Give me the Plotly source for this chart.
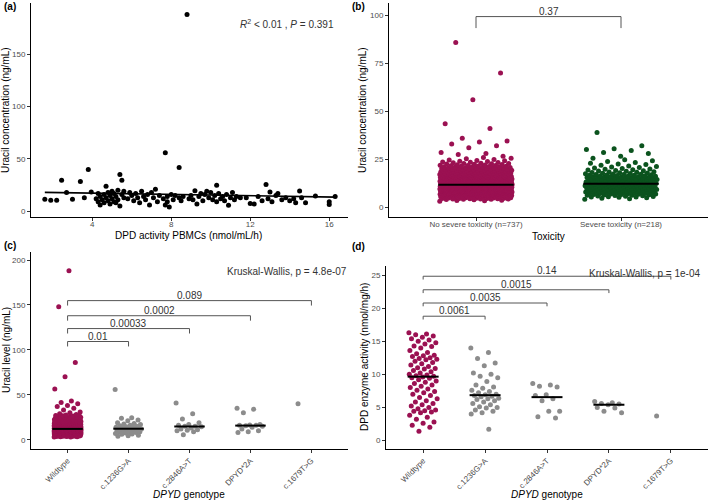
import numpy as np
import plotly.graph_objects as go

# ---------------- (a) DPD activity in PBMCs vs uracil ----------------
pbmc_dpd = [1.6, 1.9, 2.2, 2.45, 2.7, 3.0, 3.4, 3.6, 3.8, 3.95,
            4.2, 4.3, 4.3, 4.4, 4.4, 4.5, 4.6, 4.6, 4.7, 4.7, 4.8, 4.8, 4.9, 4.9,
            5.0, 5.0, 5.1, 5.1, 5.2, 5.2, 5.3, 5.3, 5.4, 5.4, 5.5, 5.5, 5.6, 5.6,
            5.8, 5.9, 6.0, 6.1, 6.2, 6.3, 6.4, 6.5, 6.6, 6.7, 6.8, 6.9, 7.0, 7.1,
            7.2, 7.3, 7.4, 7.6, 7.7, 7.7, 7.8, 7.8, 7.9, 8.0, 8.1, 8.2, 8.4, 8.4,
            8.5, 8.6, 8.8, 8.9, 9.0, 9.1, 9.2, 9.3, 9.4, 9.5, 9.6, 9.7, 9.8, 9.9,
            10.0, 10.1, 10.2, 10.3, 10.3, 10.4, 10.5, 10.6, 10.7, 10.8, 10.9, 11.0,
            11.1, 11.2, 11.3, 11.5, 11.8, 12.0, 12.2, 12.4, 12.6, 12.8, 12.9, 13.0,
            13.1, 13.3, 13.4, 13.6, 13.8, 14.0, 14.2, 14.3, 14.5, 14.6, 14.8, 15.3,
            16.0, 16.0, 16.3]
pbmc_uracil = [11.5, 10.5, 10.5, 29.6, 17.9, 11.5, 28.4, 13, 40, 18.5,
               12, 17, 9, 6, 14, 11, 8, 16, 24, 13, 10, 18, 7, 15,
               19, 12, 9, 17, 14, 8, 20, 11, 35, 5, 29.5, 16, 13, 19,
               12, 18, 15, 10, 17, 13, 8, 19, 14, 11, 16, 6, 18, 13,
               21, 9, 15, 12, 56, 6, 14, 9, 4, 16, 11, 15, 41.8, 13,
               10, 14, 188, 12, 15, 11, 19.5, 7, 14, 17, 10, 16, 19, 13,
               18, 11, 15, 24.8, 9, 17, 12, 14, 10, 16, 5.7, 13,
               18, 11, 14, 13, 13, 7.3, 7, 14, 10, 25.5, 12, 18.5,
               9, 15, 17, 11, 13, 10, 12, 8, 19.4, 13, 8, 14.5,
               9, 6.4, 14]
reg_intercept = 18.5
reg_slope = -0.306

# ---------------- (b) uracil by toxicity ----------------
tox_labels = ["No severe toxicity (n=737)", "Severe toxicity (n=218)"]
tox_pval = "0.37"
no_tox_bins = list(range(3, 26))
no_tox_counts = [6, 18, 32, 45, 52, 58, 60, 60, 58, 55, 50, 45, 40, 33, 27, 22, 17, 13, 10, 8, 6, 4, 3]
no_tox_high = [86, 70, 56, 43.5, 41, 36, 34.5, 34, 33, 32, 31, 28.5, 28, 27.5, 26.5]
tox_bins = list(range(4, 25))
tox_counts = [4, 8, 11, 14, 16, 17, 18, 18, 17, 16, 14, 12, 10, 8, 7, 5, 4, 3, 3, 2, 2]
tox_high = [39, 32, 30.5, 30, 29.5, 28.5, 28, 26.5, 25.5]

# ---------------- (c)/(d) by DPYD genotype ----------------
genotypes = ["Wildtype", "c.1236G>A", "c.2846A>T", "DPYD*2A", "c.1679T>G"]
uracil_wt_bins = list(range(3, 27))
uracil_wt_counts = [8, 18, 30, 45, 55, 62, 66, 66, 64, 60, 56, 50, 45, 40, 34, 28, 23, 18, 14, 11, 9, 7, 5, 4]
uracil_wt_high = [188, 148, 86, 70, 56.5, 43, 41.5, 40, 38, 37, 35, 33, 31, 30, 29, 28, 27.5, 27]
uracil_c1236 = [56, 24.5, 24, 22, 21, 19, 18, 17.5, 17, 16, 15.5, 15, 14.5, 14, 14, 13.5, 13, 13, 13,
                12.5, 12, 12, 11.5, 11, 11, 10.5, 10, 10, 9.5, 9, 9, 8.5, 8, 7.5, 7, 6.5, 6, 5, 4.5, 4]
uracil_c2846 = [41, 29, 23, 19, 17, 16, 15, 15, 14.5, 13, 12, 11, 10.5, 10, 9, 5.5]
uracil_2a = [35, 34, 30, 17, 16.5, 16, 16, 15.5, 15, 14, 12, 10, 9, 8]
uracil_c1679 = [40]
uracil_pvals = ["0.01", "0.00033", "0.0002", "0.089"]
uracil_kw = "Kruskal-Wallis, p = 4.8e-07"

dpd_wt = [16.3, 16.1, 16.0, 15.8, 15.6, 15.4, 15.2, 15.0, 14.8, 14.6, 14.3, 14.2, 14.0, 13.6, 13.3,
          13.1, 12.9, 12.8, 12.7, 12.5, 12.4, 12.3, 12.2, 12.0, 11.8, 11.6, 11.4, 11.2, 11.0, 10.9,
          10.8, 10.6, 10.4, 10.2, 10.0, 9.9, 9.8, 9.7, 9.6, 9.5, 9.4, 9.2, 9.0, 8.8, 8.6, 8.4, 8.2,
          8.0, 7.8, 7.6, 7.4, 7.2, 7.0, 6.8, 6.5, 6.3, 6.0, 5.8, 5.6, 5.4, 5.2, 5.0, 4.8, 4.6, 4.5,
          4.4, 4.3, 4.2, 3.8, 3.5, 3.2, 2.8, 2.6, 2.3, 2.0, 1.4]
dpd_c1236 = [14.0, 13.3, 12.4, 11.7, 11.3, 10.2, 10.0, 9.7, 9.5, 8.9, 8.4, 8.1, 7.9, 7.6, 7.4, 7.2,
             7.0, 6.9, 6.8, 6.7, 6.6, 6.4, 6.3, 6.2, 6.0, 5.8, 5.6, 5.4, 5.1, 5.0, 4.9, 4.6, 4.4,
             4.2, 4.0, 1.7]
dpd_c2846 = [8.6, 8.4, 8.2, 8.1, 6.9, 6.8, 6.3, 6.0, 4.4, 4.4, 3.6, 3.4]
dpd_2a = [5.9, 5.7, 5.6, 5.5, 5.4, 5.0, 4.9, 4.4, 4.2]
dpd_c1679 = [3.7]
dpd_pvals = ["0.0061", "0.0035", "0.0015", "0.14"]
dpd_kw = "Kruskal-Wallis, p = 1e-04"

MAROON = "#9B1152"
GREEN = "#0B531E"
GREY = "#8C8C8C"
FONT = "Liberation Sans, Arial, sans-serif"


def expand(bins, counts, extra):
    vals = []
    for b, n in zip(bins, counts):
        vals += [b + (j + 0.5) / n for j in range(n)]
    return vals + list(extra)


def jitter(center, n, width):
    # evenly spread horizontal offsets (golden-ratio sequence)
    return [center + ((i * 0.6180339887) % 1 - 0.5) * 2 * width for i in range(n)]


fig = go.Figure()

# ---- (a)
fig.add_trace(go.Scatter(x=pbmc_dpd, y=pbmc_uracil, mode="markers", xaxis="x", yaxis="y",
                         marker=dict(color="black", size=5), showlegend=False))
xr = np.array([min(pbmc_dpd), max(pbmc_dpd)])
fig.add_trace(go.Scatter(x=xr, y=reg_intercept + reg_slope * xr, mode="lines", xaxis="x", yaxis="y",
                         line=dict(color="black", width=1.6), showlegend=False))

# ---- (b)
groups_b = [(expand(no_tox_bins, no_tox_counts, no_tox_high), MAROON),
            (expand(tox_bins, tox_counts, tox_high), GREEN)]
for k, (vals, col) in enumerate(groups_b, start=1):
    fig.add_trace(go.Scatter(x=jitter(k, len(vals), 0.25), y=vals, mode="markers", xaxis="x2", yaxis="y2",
                             marker=dict(color=col, size=5), showlegend=False))
for k, (vals, col) in enumerate(groups_b, start=1):
    m = float(np.median(vals))
    fig.add_trace(go.Scatter(x=[k - 0.26, k + 0.26], y=[m, m], mode="lines", xaxis="x2", yaxis="y2",
                             line=dict(color="black", width=2.2), showlegend=False))


def group_panel(groups, xa, ya, jw):
    for k, vals in enumerate(groups, start=1):
        col = MAROON if k == 1 else GREY
        fig.add_trace(go.Scatter(x=jitter(k, len(vals), jw), y=vals, mode="markers", xaxis=xa, yaxis=ya,
                                 marker=dict(color=col, size=5), showlegend=False))
    for k, vals in enumerate(groups, start=1):
        if len(vals) < 2:
            continue
        m = float(np.median(vals))
        fig.add_trace(go.Scatter(x=[k - 0.25, k + 0.25], y=[m, m], mode="lines", xaxis=xa, yaxis=ya,
                                 line=dict(color="black", width=2), showlegend=False))


uracil_groups = [expand(uracil_wt_bins, uracil_wt_counts, uracil_wt_high),
                 uracil_c1236, uracil_c2846, uracil_2a, uracil_c1679]
dpd_groups = [dpd_wt, dpd_c1236, dpd_c2846, dpd_2a, dpd_c1679]
group_panel(uracil_groups, "x3", "y3", 0.22)
group_panel(dpd_groups, "x4", "y4", 0.23)

annotations = []
BR_COL = "#555555"


def bracket(xa, ya, x1, x2, y, tip, label, yshift=-2):
    fig.add_trace(go.Scatter(x=[x1, x1, x2, x2], y=[y - tip, y, y, y - tip], mode="lines",
                             xaxis=xa, yaxis=ya, line=dict(color=BR_COL, width=1), showlegend=False))
    annotations.append(dict(x=(x1 + x2) / 2, y=y, xref=xa, yref=ya, text=label, showarrow=False,
                            yanchor="bottom", yshift=yshift, font=dict(size=10, color="#333333")))


bracket("x2", "y2", 1, 2, 99.5, 6, tox_pval)
for (yb, p), k in zip(zip([109.3, 123.7, 138, 154.8], uracil_pvals), [2, 3, 4, 5]):
    bracket("x3", "y3", 1, k, yb, 5.5, p)
for (yb, p), k in zip(zip([18.8, 20.8, 22.8, 24.85], dpd_pvals), [2, 3, 4, 5]):
    bracket("x4", "y4", 1, k, yb, 0.5, p)


def px(x):
    return x / 709


def py(y):
    return 1 - y / 500


def note(x, y, text, size=10, **kw):
    annotations.append(dict(x=px(x), y=py(y), xref="paper", yref="paper", text=text, showarrow=False,
                            font=dict(size=size, color=kw.pop("color", "black")), **kw))


# panel labels
for lab, x, y in [("(a)", 2, 6), ("(b)", 350, 6), ("(c)", 2, 245), ("(d)", 350, 246)]:
    note(x, y, "<b>%s</b>" % lab, size=10, xanchor="left", yanchor="middle")

# axis titles
note(188.5, 235, "DPD activity PBMCs (nmol/mL/h)", xanchor="center", yanchor="middle")
note(6, 110, "Uracil concentration (ng/mL)", textangle=-90, xanchor="center", yanchor="middle")
note(548.5, 236, "Toxicity", xanchor="center", yanchor="middle")
note(363, 110, "Uracil concentration (ng/mL)", textangle=-90, xanchor="center", yanchor="middle")
note(189.5, 494, "<i>DPYD</i> genotype", xanchor="center", yanchor="middle")
note(6, 350, "Uracil level (ng/mL)", textangle=-90, xanchor="center", yanchor="middle")
note(547, 494, "<i>DPYD</i> genotype", xanchor="center", yanchor="middle")
note(364, 357, "DPD enzyme activity (nmol/mg/h)", textangle=-90, xanchor="center", yanchor="middle")

# stats text
note(287, 24, "<i>R</i><sup>2</sup> &lt; 0.01 , <i>P</i> = 0.391", color="#333333",
     xanchor="center", yanchor="middle")
note(349, 271, uracil_kw, color="#333333", xanchor="right", yanchor="middle")
note(702, 273, dpd_kw, color="#333333", xanchor="right", yanchor="middle")

ax_common = dict(showline=True, linecolor="black", linewidth=1, ticks="outside", ticklen=3,
                 tickcolor="#333333", tickwidth=1, showgrid=False, zeroline=False,
                 tickfont=dict(size=8, color="#4D4D4D", family=FONT))
xa_common = dict(ax_common, ticklabelstandoff=-4)

fig.update_layout(
    width=709, height=500, margin=dict(l=0, r=0, t=0, b=0),
    plot_bgcolor="white", paper_bgcolor="white",
    font=dict(family=FONT, size=10, color="black"),
    xaxis=dict(domain=[px(31), px(348)], range=[0.9, 16.95], tickvals=[4, 8, 12, 16], anchor="y", **xa_common),
    yaxis=dict(domain=[py(217), py(3)], range=[-5.5, 199], tickvals=[0, 50, 100, 150], anchor="x", **ax_common),
    xaxis2=dict(domain=[px(389), px(708)], range=[0.4, 2.6], tickvals=[1, 2], ticktext=tox_labels,
                anchor="y2", **xa_common),
    yaxis2=dict(domain=[py(217), py(3)], range=[-5.2, 106.6], tickvals=[0, 25, 50, 75, 100], anchor="x2",
                **ax_common),
    xaxis3=dict(domain=[px(31), px(348)], range=[0.4, 5.6], tickvals=[1, 2, 3, 4, 5], ticktext=genotypes,
                tickangle=-45, anchor="y3", **ax_common),
    yaxis3=dict(domain=[py(449), py(252)], range=[-10.3, 208.9], tickvals=[0, 50, 100, 150, 200],
                anchor="x3", **ax_common),
    xaxis4=dict(domain=[px(386), px(708)], range=[0.4, 5.6], tickvals=[1, 2, 3, 4, 5], ticktext=genotypes,
                tickangle=-45, anchor="y4", **ax_common),
    yaxis4=dict(domain=[py(449), py(266)], range=[-1.3, 26.4], tickvals=[0, 5, 10, 15, 20, 25],
                anchor="x4", **ax_common),
    annotations=annotations,
)

# the page body has a default 8px margin; remove it so the figure fills the window
fig.write_html("out.html", config={"displayModeBar": False},
               post_script="document.body.style.margin='0';")
